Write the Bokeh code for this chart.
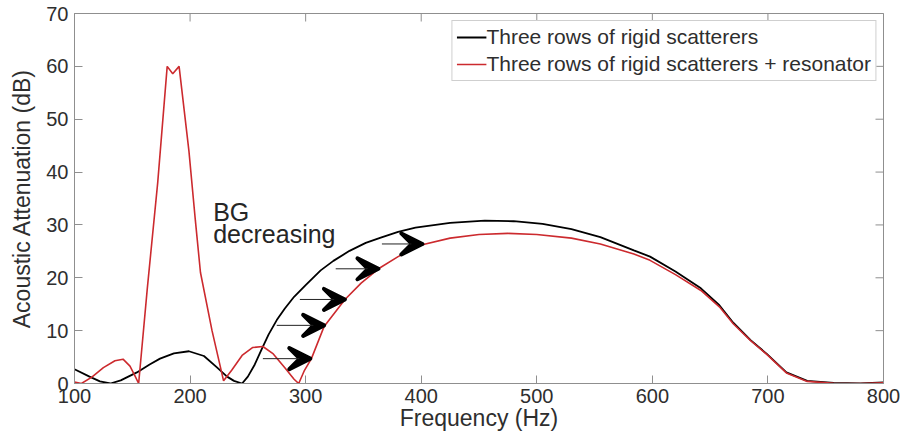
import math
from bokeh.plotting import figure
from bokeh.models import (Legend, LegendItem, Label, Arrow, VeeHead,
                          ColumnDataSource, FixedTicker, Range1d)
from bokeh.embed import file_html
from bokeh.resources import INLINE

# ---- data ----
black_f = [100, 113, 122, 131, 140, 154, 165, 174, 186, 199, 212, 223, 232, 238, 245,
           250, 256, 262, 268, 275, 282, 290, 300, 313, 324, 338, 352, 365, 380, 395, 425, 455, 480,
           505, 530, 555, 584, 598, 620, 642, 658, 670, 685, 699, 716, 734, 757, 780, 800]
black_db = [2.7, 1.3, 0.4, 0.0, 0.6, 2.1, 3.6, 4.7, 5.7, 6.1, 5.2, 3.1, 1.3, 0.5, 0.0,
            1.3, 3.6, 6.5, 9.3, 12.0, 14.2, 16.4, 18.6, 21.4, 23.2, 25.1, 26.6, 27.6, 28.7, 29.5, 30.4, 30.8, 30.7,
            30.2, 29.2, 27.7, 25.2, 24.0, 21.2, 18.0, 14.8, 11.5, 8.2, 5.6, 2.1, 0.5, 0.1, 0.0, 0.2]

red_f = [100, 106, 115, 125, 135, 142, 148, 152, 155.5, 163, 172, 180.2, 185, 190.5, 199,
         204.6, 209, 219, 229, 236, 245, 254, 263, 272, 282, 290, 294, 299, 305, 316,
         334, 348, 363, 380, 400, 425, 450, 475, 500, 530, 555, 584, 598, 620, 642, 658,
         670, 685, 699, 716, 734, 757, 780, 800]
red_db = [0.3, 0.0, 1.2, 3.0, 4.3, 4.6, 3.3, 1.6, 0.0, 18.0, 38.0, 60.0, 58.6, 60.0, 44.0,
          30.8, 21.0, 10.0, 0.5, 2.5, 5.3, 6.8, 7.0, 5.6, 3.0, 0.8, 0.0, 2.5, 4.7, 10.8,
          15.9, 19.0, 21.7, 24.0, 26.2, 27.5, 28.2, 28.4, 28.2, 27.5, 26.4, 24.5, 23.3, 20.6, 17.6, 14.5,
          11.3, 8.1, 5.5, 2.0, 0.4, 0.05, 0.0, 0.15]

# arrows showing the band gap shift (level, start freq, end freq)
arrow_db = [4.7, 11.0, 15.9, 21.7, 26.4]
arrow_f_start = [263, 275, 295, 326, 366]
arrow_f_end = [304, 316, 334, 363, 401]

x_range_lim = [100, 800]
y_range_lim = [0, 70]
x_ticks = [100, 200, 300, 400, 500, 600, 700, 800]
y_ticks = [0, 10, 20, 30, 40, 50, 60, 70]

series_labels = ["Three rows of rigid scatterers",
                 "Three rows of rigid scatterers + resonator"]
annot_lines = ["BG", "decreasing"]
annot_x = [220, 220]
annot_y = [32.5, 28.3]

FONT = "Liberation Sans"
AX_COL = "#8f8f8f"
TXT_COL = "#2e2e2e"

p = figure(width=904, height=442, output_backend="svg", toolbar_location=None,
           x_range=Range1d(*x_range_lim), y_range=Range1d(*y_range_lim),
           min_border_left=74, min_border_right=21, min_border_top=13, min_border_bottom=59)
p.background_fill_color = "white"
p.border_fill_color = "white"
p.outline_line_color = AX_COL
p.grid.visible = False

r_black = p.line(black_f, black_db, line_color="black", line_width=1.8)
r_red = p.line(red_f, red_db, line_color="#cc2a2e", line_width=1.6)

# inward tick marks on the top and right edges of the box (clipped to the frame)
p.scatter(x_ticks, [y_range_lim[1]] * len(x_ticks), marker="dash", angle=math.pi / 2,
          size=16, line_color=AX_COL, line_width=1)
p.scatter([x_range_lim[1]] * len(y_ticks), y_ticks, marker="dash",
          size=16, line_color=AX_COL, line_width=1)

# arrows
src = ColumnDataSource(dict(x0=arrow_f_start, y0=arrow_db, x1=arrow_f_end, y1=arrow_db))
p.add_layout(Arrow(source=src, x_start="x0", y_start="y0", x_end="x1", y_end="y1",
                   line_color="#222222", line_width=1,
                   end=VeeHead(size=21, fill_color="black", line_color="black",
                               line_width=4, line_join="round")))

for txt, fx, fy in zip(annot_lines, annot_x, annot_y):
    p.add_layout(Label(x=fx, y=fy, text=txt, text_font=FONT, text_font_size="25px",
                       text_color="#262626", text_baseline="alphabetic"))

p.xaxis.ticker = FixedTicker(ticks=x_ticks)
p.yaxis.ticker = FixedTicker(ticks=y_ticks)

for ax in p.axis:
    ax.axis_line_color = AX_COL
    ax.major_tick_line_color = AX_COL
    ax.major_tick_in = 8
    ax.major_tick_out = 0
    ax.minor_tick_line_color = None
    ax.major_label_text_font = FONT
    ax.major_label_text_color = TXT_COL
    ax.major_label_text_font_size = "20px"
    ax.axis_label_text_font = FONT
    ax.axis_label_text_color = TXT_COL
    ax.axis_label_text_font_style = "normal"
    ax.axis_label_text_font_size = "23px"

xa = p.xaxis[0]
xa.major_label_standoff = 5
xa.axis_label = "Frequency (Hz)"
xa.axis_label_standoff = -1

ya = p.yaxis[0]
ya.major_label_standoff = 6
ya.axis_label = "Acoustic Attenuation (dB)"
ya.axis_label_standoff = 8

legend = Legend(items=[LegendItem(label=series_labels[0], renderers=[r_black]),
                       LegendItem(label=series_labels[1], renderers=[r_red])],
                location="top_right", margin=7, padding=4, spacing=3,
                label_standoff=0, glyph_width=30, glyph_height=22, label_height=22,
                label_text_font=FONT, label_text_font_size="21px", label_text_color=TXT_COL,
                border_line_color="#a0a0a0", border_line_width=1,
                background_fill_color="white", background_fill_alpha=1)
p.add_layout(legend)

open("out.html", "w").write(file_html(p, INLINE))
